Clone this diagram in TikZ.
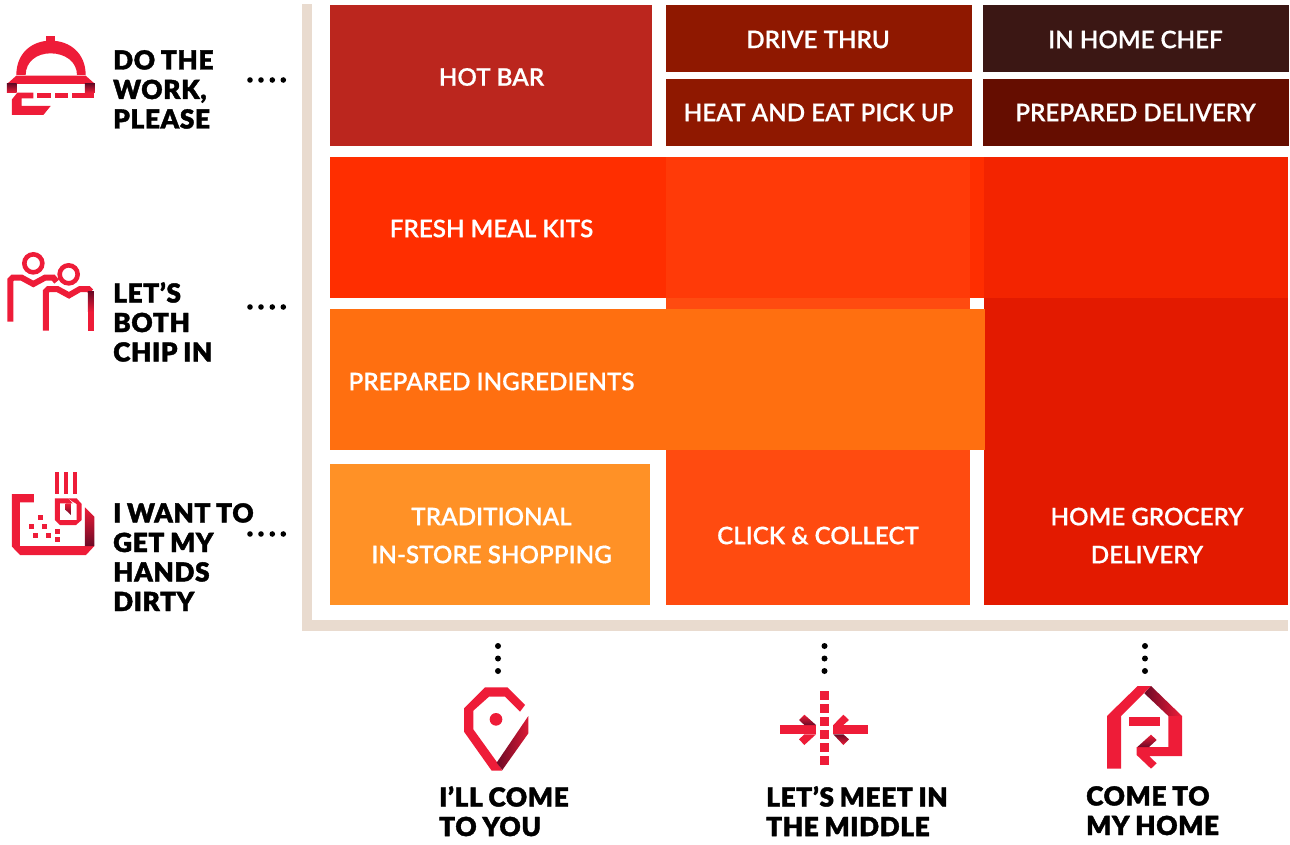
\documentclass[tikz,border=0pt]{standalone}
\usepackage{fontspec}
\newfontfamily\heavyfont[FakeBold=1.5,LetterSpace=2.5,WordSpace=0.85]{Lato Black}
\newfontfamily\boxfont[FakeBold=0.5]{Lato Semibold}
\definecolor{iconred}{HTML}{EE1C38}
\definecolor{icondark}{HTML}{6B0A26}
\definecolor{framec}{HTML}{E9DBCF}
\definecolor{cHot}{HTML}{BB261E}
\definecolor{cDrive}{HTML}{8F1800}
\definecolor{cChef}{HTML}{3B1714}
\definecolor{cPrep}{HTML}{650D00}
\definecolor{cKits}{HTML}{FF2E00}
\definecolor{cKitsMid}{HTML}{FF3A08}
\definecolor{cKitsRight}{HTML}{F32400}
\definecolor{cHome}{HTML}{E31A00}
\definecolor{cIngr}{HTML}{FF6F10}
\definecolor{cTrad}{HTML}{FF9126}
\definecolor{cClick}{HTML}{FF4B10}
\tikzset{
  boxlabel/.style={text=white,font=\boxfont\fontsize{24.2}{38}\selectfont,align=center,inner sep=0pt},
  sidelabel/.style={text=black,font=\heavyfont\fontsize{26.2}{29.5}\selectfont,align=left,anchor=north west,inner sep=0pt},
  fillred/.style={fill=iconred,draw=none},
  dotmark/.style={fill=black,draw=none},
  zoomed/.style={x=0.33333pt,y=-0.33333pt},
  ringline/.style={draw=iconred,line width=4.6pt},
  bandline/.style={draw=iconred,line width=6pt,miter limit=10},
}
\begin{document}
\begin{tikzpicture}[x=1pt,y=-1pt]
\useasboundingbox (0,0) rectangle (1290,845);
% frame
\fill[framec] (302,4) rectangle (312,631);
\fill[framec] (302,620) rectangle (1288,631);
% grid
\fill[cHot] (330,5) rectangle (652,146);
\fill[cDrive] (666,5) rectangle (972,72);
\fill[cDrive] (666,79) rectangle (972,146);
\fill[cChef] (983,5) rectangle (1289,72);
\fill[cPrep] (983,79) rectangle (1289,146);
\fill[cKits] (330,157) rectangle (1288,298);
\fill[cKitsMid] (666,157) rectangle (970,298);
\fill[cClick] (666,298) rectangle (970,309);
\fill[cKitsRight] (984,157) rectangle (1288,298);
\fill[cHome] (984,298) rectangle (1288,605);
\fill[cIngr] (330,309) rectangle (985,450);
\fill[cTrad] (330,464) rectangle (650,605);
\fill[cClick] (666,450) rectangle (970,605);
% box labels
\node[boxlabel] (hot) at (491.5,77) {HOT BAR};
\node[boxlabel] (drive) at (818,39.5) {DRIVE THRU};
\node[boxlabel] (heat) at (818.5,112.5) {HEAT AND EAT PICK UP};
\node[boxlabel] (chef) at (1135.5,39.5) {IN HOME CHEF};
\node[boxlabel] (deliv) at (1135.5,112.5) {PREPARED DELIVERY};
\node[boxlabel] (kits) at (491.5,228.5) {FRESH MEAL KITS};
\node[boxlabel] (ingr) at (491.5,381.5) {PREPARED INGREDIENTS};
\node[boxlabel] (trad) at (491.5,535.5) {TRADITIONAL\\IN-STORE SHOPPING};
\node[boxlabel] (click) at (818,535.5) {CLICK \& COLLECT};
\node[boxlabel] (grocery) at (1147,535.5) {HOME GROCERY\\DELIVERY};
% side labels
\node[sidelabel] (work) at (113,50) {DO THE\\WORK,\\PLEASE};
\node[sidelabel] (chip) at (113,282) {LET’S\\BOTH\\CHIP IN};
\node[sidelabel] (dirty) at (113,503) {I WANT TO\\GET MY\\HANDS\\DIRTY};
\node[sidelabel] (come) at (439,786) {I’LL COME\\TO YOU};
\node[sidelabel] (meet) at (766,786) {LET’S MEET IN\\THE MIDDLE};
\node[sidelabel] (home) at (1086,786) {COME TO\\MY HOME};
% dots
\foreach \y in {80,307,534}{\foreach \x in {250,261,272.3,283.3}{\fill[dotmark] (\x,\y) circle (2.8pt);}}
\foreach \x in {498,824.5,1145}{\foreach \y in {646,658.5,671}{\fill[dotmark] (\x,\y) circle (3pt);}}
% cloche icon
\begin{scope}[shift={(0,20)},zoomed]
\fill[iconred] (138,48) rectangle (165,62);
\fill[iconred,even odd rule] (49,165) .. controls (49,100) and (95,62) .. (152,62) .. controls (210,62) and (257,100) .. (257,165) -- (231,165) .. controls (231,125) and (195,100) .. (152,100) .. controls (110,100) and (77,125) .. (77,165) -- cycle;
\fill[iconred] (21,192) -- (49,167) -- (257,167) -- (285,192) -- cycle;
\shade[top color=icondark,bottom color=iconred] (21,192) rectangle (50,218);
\shade[top color=icondark,bottom color=iconred] (255,192) rectangle (285,218);
\fill[iconred] (111,218) rectangle (152,235);
\fill[iconred] (165,218) rectangle (205,235);
\fill[iconred] (217,218) rectangle (282,235);
\fill[iconred] (100,218) -- (100,235) -- (65,235) -- (65,258) -- (152,258) -- (130,285) -- (36,285) -- (36,238) -- (52,218) -- cycle;
\end{scope}
% people icon
\begin{scope}[shift={(0,240)},zoomed]
\draw[ringline] (100,70) circle (27);
\draw[ringline] (206,103) circle (27);
\draw[bandline] (31,245) -- (31,120) -- (38,113) -- (65,113) -- (100,132) -- (135,113) -- (160,113) -- (170,125);
\draw[bandline] (138,272) -- (138,154) -- (145,147) -- (172,147) -- (207,166) -- (240,147) -- (265,147) -- (273,155);
\shade[top color=icondark,bottom color=iconred] (264,155) rectangle (282,215);
\fill[iconred] (264,215) rectangle (282,272);
\end{scope}
% hands icon
\begin{scope}[shift={(0,465)},zoomed]
\fill[iconred] (165,22) rectangle (178,88);
\fill[iconred] (191,22) rectangle (204,88);
\fill[iconred] (218,22) rectangle (231,88);
\fill[iconred] (36,87) -- (102,87) -- (102,112) -- (60,112) -- (60,243) -- (258,243) -- (283,243) -- (258,270) -- (60,270) -- (36,245) -- cycle;
\shade[top color=iconred,bottom color=icondark] (255,127) -- (283,155) -- (283,243) -- (258,243) -- (255,243) -- cycle;
\fill[iconred] (165,100) -- (205,100) -- (218,115) -- (180,115) -- (180,165) -- (230,165) -- (230,115) -- (245,117) -- (245,165) -- (228,180) -- (180,180) -- (165,165) -- cycle;
\shade[top color=iconred,bottom color=icondark] (197,115) -- (213,115) -- (213,150) -- (197,135) -- cycle;
\fill[iconred] (205,100) -- (230,100) -- (245,117) -- (230,117) -- (218,110) -- cycle;
\foreach \a/\b in {115/150,87/177,126/177,165/192,99/204,138/204,165/216}{\fill[iconred] (\a,\b) rectangle ++(14,14);}
\end{scope}
% pin icon
\begin{scope}[shift={(440,640)},zoomed]
\fill[iconred] (135,142) -- (202,142) -- (255,195) -- (240,215) -- (195,170) -- (147,170) -- (100,212) -- (100,268) -- (172,368) -- (187,392) -- (155,392) -- (72,275) -- (72,205) -- cycle;
\shade[left color=icondark,right color=iconred!85!icondark] (170,368) -- (265,228) -- (265,280) -- (187,390) -- cycle;
\fill[iconred] (168,238) circle (19);
\end{scope}
% meet icon
\begin{scope}[shift={(765,640)},zoomed]
\foreach \b in {153,192,231,270,309,348}{\fill[iconred] (165,\b) rectangle ++(27,27);}
\fill[iconred] (45,255) rectangle (153,283);
\shade[top color=iconred,bottom color=icondark] (118,224) -- (102,240) -- (118,255) -- (153,255) -- cycle;
\fill[iconred] (118,315) -- (102,298) -- (118,283) -- (153,283) -- cycle;
\fill[iconred] (309,255) rectangle (205,283);
\fill[iconred] (235,224) -- (252,240) -- (235,255) -- (205,255) -- cycle;
\shade[top color=icondark,bottom color=iconred] (205,283) -- (235,315) -- (252,298) -- (235,283) -- cycle;
\end{scope}
% house icon
\begin{scope}[shift={(1085,640)},zoomed]
\fill[iconred] (66,386) -- (66,228) -- (158,138) -- (198,138) -- (108,228) -- (108,386) -- cycle;
\shade[left color=icondark,right color=iconred] (178,160) -- (198,138) -- (291,228) -- (250,228) -- cycle;
\fill[iconred] (250,228) -- (291,228) -- (291,348) -- (192,348) -- (215,370) -- (198,386) -- (155,345) -- (155,321) -- (250,321) -- cycle;
\shade[top color=iconred,bottom color=icondark] (157,321) -- (198,284) -- (215,300) -- (192,321) -- cycle;
\fill[iconred] (132,231) rectangle (225,258);
\end{scope}
\end{tikzpicture}
\end{document}
